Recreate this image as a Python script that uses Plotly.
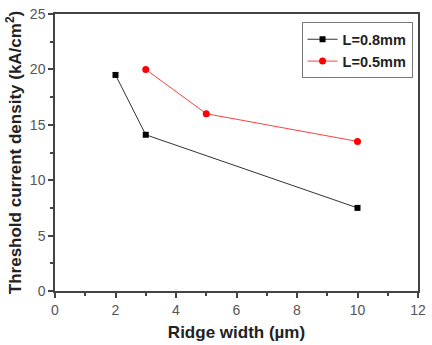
import plotly.graph_objects as go

x_08 = [2, 3, 10]
y_08 = [19.5, 14.1, 7.5]
x_05 = [3, 5, 10]
y_05 = [20.0, 16.0, 13.5]

fig = go.Figure()
fig.add_trace(go.Scatter(x=x_08, y=y_08, mode="lines+markers", name="L=0.8mm",
                         line=dict(color="#333333", width=1),
                         marker=dict(symbol="square", size=6, color="black")))
fig.add_trace(go.Scatter(x=x_05, y=y_05, mode="lines+markers", name="L=0.5mm",
                         line=dict(color="#ff4040", width=1),
                         marker=dict(symbol="circle", size=7, color="red")))

axis_common = dict(showline=True, linecolor="#444444", linewidth=1.5, mirror=True,
                   ticks="outside", ticklen=5, tickcolor="#444444", tickwidth=1.5,
                   showgrid=False, zeroline=False,
                   tickfont=dict(family="Liberation Sans, Arial", size=14, color="#555555"))

fig.update_xaxes(range=[0, 12], dtick=2, tick0=0,
                 minor=dict(ticks="outside", ticklen=3, dtick=1, tickcolor="#444444"),
                 title=dict(text="<b>Ridge width (µm)</b>", standoff=10,
                            font=dict(family="Liberation Sans, Arial", size=17, color="#222222")),
                 **axis_common)
fig.update_yaxes(range=[0, 25], dtick=5, tick0=0,
                 minor=dict(ticks="outside", ticklen=3, dtick=2.5, tickcolor="#444444"),
                 title=dict(text="<b>Threshold current density (kA/cm<sup>2</sup>)</b>", standoff=4,
                            font=dict(family="Liberation Sans, Arial", size=17, color="#222222")),
                 **axis_common)

fig.update_layout(
    width=432, height=345,
    margin=dict(l=55, r=6, t=12, b=52),
    plot_bgcolor="white", paper_bgcolor="white",
    legend=dict(x=0.985, y=0.97, xanchor="right", yanchor="top",
                bordercolor="#777777", borderwidth=1, bgcolor="white",
                font=dict(family="Liberation Sans, Arial", size=14.5, color="#222222", weight="bold"),
                tracegroupgap=0, itemwidth=30),
)

fig.write_html("out.html")
